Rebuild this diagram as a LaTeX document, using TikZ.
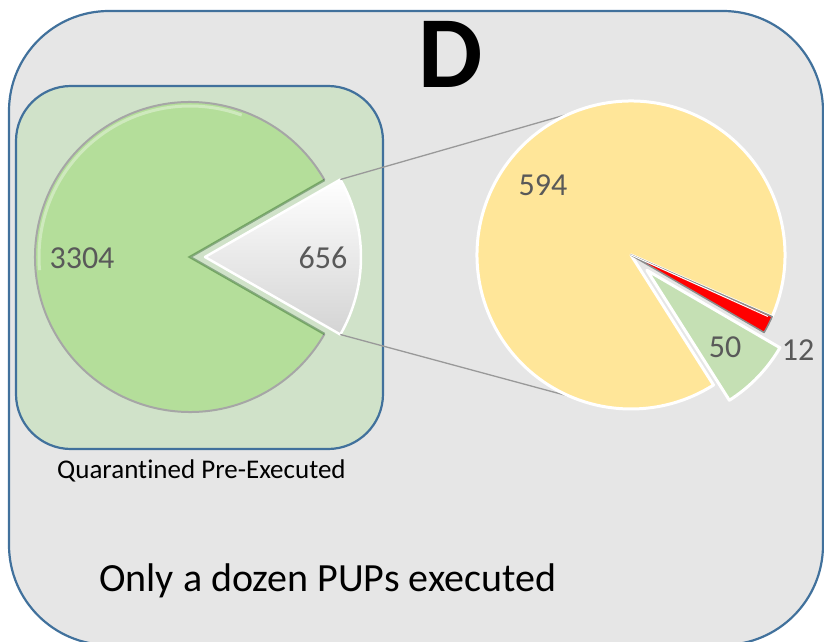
\documentclass[tikz,border=0pt]{standalone}
\usepackage{fontspec}
\setmainfont{Carlito}[Ligatures=NoCommon]
\definecolor{boxblue}{HTML}{41719C}
\definecolor{panelgray}{HTML}{E6E6E6}
\definecolor{panelgreen}{HTML}{D0E2C9}
\definecolor{piegreen}{HTML}{B4DE9A}
\definecolor{pieyellow}{HTML}{FFE699}
\definecolor{slicegreen}{HTML}{C5E0B4}
\definecolor{numgray}{HTML}{595959}

\begin{document}
\begin{tikzpicture}[x=1pt, y=1pt,
    box/.style={draw=boxblue, line width=2.2pt},
    num/.style={text=numgray, inner sep=0pt, font=\fontsize{32}{36}\selectfont},
    link/.style={draw=black!40, line width=1.3pt}]
  \useasboundingbox (0,0) rectangle (824,641);

  % panels
  \draw[box, fill=panelgray, rounded corners=100pt] (9,-4) rectangle (823,630);
  \draw[box, fill=panelgreen, rounded corners=55pt] (16,192) rectangle (383,555);

  % left pie, the 656 wedge pulled out
  \coordinate (lc) at (190,384);
  \coordinate (sc) at (205,384);
  \fill[piegreen] (lc) -- ++(29.8:155) arc[start angle=29.8, end angle=330.2, radius=155] -- cycle;
  \draw[black!35, line width=2pt] (lc) ++(29.8:155) arc[start angle=29.8, end angle=330.2, radius=155];
  \draw[white, opacity=.35, line width=3pt] (lc) ++(70:151) arc[start angle=70, end angle=185, radius=151];
  \draw[green!25!black, opacity=.35, line width=2.5pt] (lc) ++(29.8:155) -- (lc) -- ++(-29.8:155);
  \shade[top color=white, bottom color=black!17] (sc) -- ++(29.8:156) arc[start angle=29.8, end angle=-29.8, radius=156] -- cycle;
  \draw[white, line width=2.5pt, line join=round] (sc) -- ++(29.8:156) coordinate (stop)
    arc[start angle=29.8, end angle=-29.8, radius=156] coordinate (sbot) -- cycle;

  % right pie
  \coordinate (rc) at (631,386);
  \path (rc) ++(113.3:154) coordinate (ptop);
  \path (rc) ++(246.9:154) coordinate (pbot);
  \draw[link] (stop) -- (ptop);
  \draw[link] (sbot) -- (pbot);

  \filldraw[fill=pieyellow, draw=white, line width=3pt, line join=round]
    (rc) -- ++(-23.6:154) arc[start angle=-23.6, end angle=302.4, radius=154] -- cycle;
  \filldraw[fill=red, draw=black!45, line width=1.5pt, line join=round]
    (rc) -- ++(-23.6:154) arc[start angle=-23.6, end angle=-30.2, radius=154] -- cycle;
  \draw[white, line width=1pt] (rc) -- ++(-24.2:150);
  \path (rc) ++(-43.9:22) coordinate (gc);
  \filldraw[fill=slicegreen, draw=white, line width=3pt, line join=round]
    (gc) -- ++(-30.2:154) arc[start angle=-30.2, end angle=-57.6, radius=154] -- cycle;

  % values
  \node[num] (big) at (82,383) {3304};
  \node[num] (part) at (323,383) {656};
  \node[num] (yes) at (543,456) {594};
  \node[num] (fifty) at (725,294) {50};
  \node[num] (twelve) at (798,291) {12};

  % titles
  \node[inner sep=0pt, font=\fontsize{102}{110}\selectfont\bfseries] (title) at (451,587) {D};
  \node[anchor=base west, inner sep=0pt, font=\fontsize{27}{30}\selectfont] (cap) at (57,163) {Quarantined Pre-Executed};
  \node[anchor=base west, inner sep=0pt, font=\fontsize{40}{44}\selectfont] (note) at (99,50) {Only a dozen PUPs executed};
\end{tikzpicture}
\end{document}
